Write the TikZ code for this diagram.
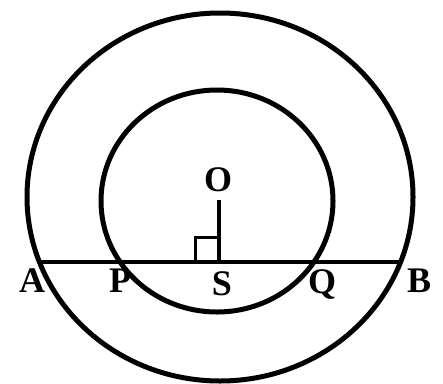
\documentclass[tikz,border=0pt]{standalone}
\usepackage{fontspec}
\setmainfont{Liberation Serif}
\begin{document}
\begin{tikzpicture}[x=1pt,y=-1pt,
  geo/.style={line width=5pt},
  lbl/.style={font=\fontsize{36}{36}\selectfont\bfseries, inner sep=0pt}]
\useasboundingbox (0,0) rectangle (443,383);
% circles
\draw[geo] (220,197) ellipse [x radius=193pt, y radius=184pt];
\draw[geo] (217,201) ellipse [x radius=116pt, y radius=111pt];
% points
\coordinate (A) at (39.4,262);
\coordinate (B) at (400.6,262);
\coordinate (S) at (219,262);
\coordinate (Otop) at (219,200);
% chord
\draw[geo, line width=4.5pt] (A) -- (B);
% perpendicular
\draw[geo, line width=4.5pt] (Otop) -- (S);
% right angle mark
\draw[line width=3pt] (S) ++(-24,0) coordinate (r1) -- ++(0,-25) coordinate (r2) -- ++(24,0);
% labels
\node[lbl] (lO) at (218,180) {O};
\node[lbl] (lA) at (32,281) {A};
\node[lbl] (lP) at (120,281) {P};
\node[lbl] (lS) at (222,284) {S};
\node[lbl] (lQ) at (322,284) {Q};
\node[lbl] (lB) at (419,281) {B};
\end{tikzpicture}
\end{document}
